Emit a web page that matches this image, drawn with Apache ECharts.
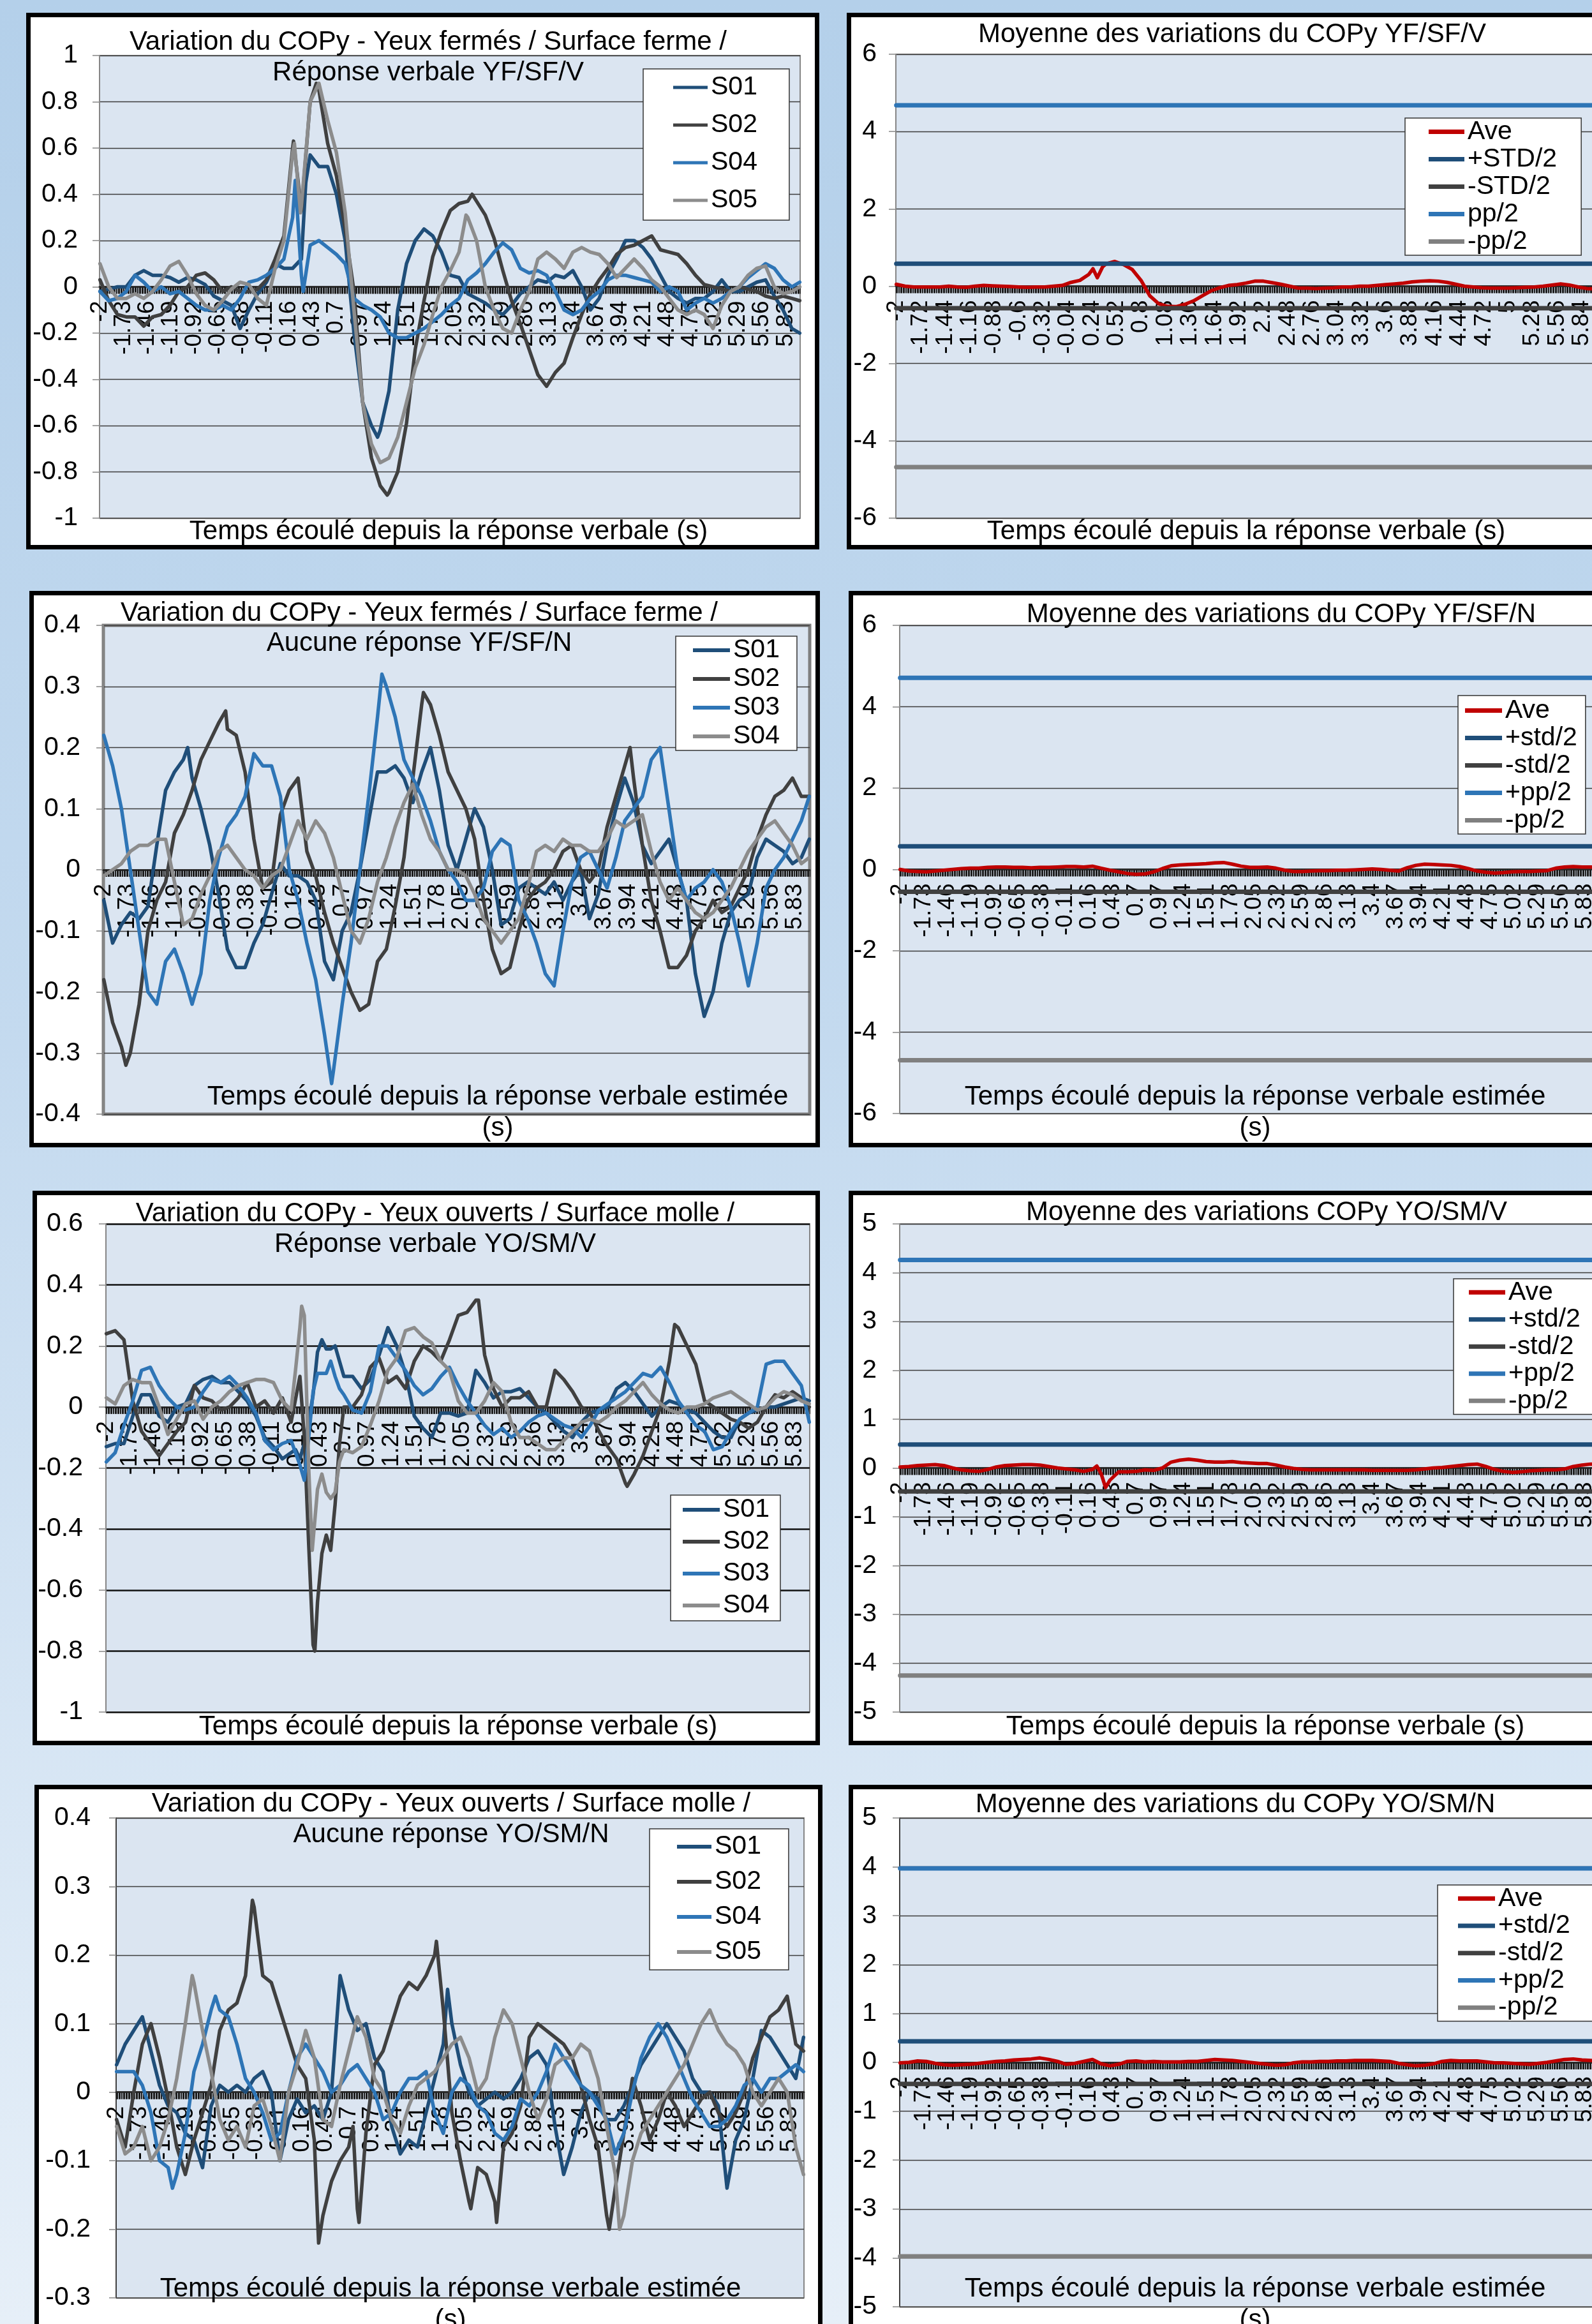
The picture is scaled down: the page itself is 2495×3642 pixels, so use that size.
<!DOCTYPE html>
<html><head><meta charset="utf-8">
<script src="https://cdn.jsdelivr.net/npm/echarts@6/dist/echarts.min.js"></script>
<style>
html,body{margin:0;padding:0;width:2495px;height:3642px;overflow:hidden;}
body{position:relative;background:linear-gradient(180deg,#b4d0ea 0%,#c4daef 45%,#e6eff8 100%);}
.panel{position:absolute;box-sizing:border-box;border:7px solid #000;background:#fff;}
</style></head><body>
<div id="p1" class="panel" style="left:41px;top:20px;width:1243px;height:841px"></div>
<div id="p2" class="panel" style="left:1327px;top:20px;width:1300px;height:841px"></div>
<div id="p3" class="panel" style="left:46px;top:926px;width:1239px;height:872px"></div>
<div id="p4" class="panel" style="left:1330px;top:926px;width:1300px;height:872px"></div>
<div id="p5" class="panel" style="left:51px;top:1866px;width:1234px;height:869px"></div>
<div id="p6" class="panel" style="left:1330px;top:1866px;width:1300px;height:869px"></div>
<div id="p7" class="panel" style="left:54px;top:2797px;width:1235px;height:900px"></div>
<div id="p8" class="panel" style="left:1330px;top:2797px;width:1300px;height:900px"></div>
<script>
// ---------------- DATA ----------------
// sample times (s): -2.0 .. 5.9 step 0.1, then 5.99 ; values below follow this order
const SAMPLE_T = [];
for (let i = 0; i < 80; i++) SAMPLE_T.push(Math.round((-2 + i * 0.1) * 10) / 10);
SAMPLE_T.push(5.99);
// category labels: -2 .. 5.99 step 0.01
const CATS = [];
for (let i = 0; i < 800; i++) CATS.push(String(Math.round((-2 + i * 0.01) * 100) / 100));

// Panel 1 : YF/SF/V
const P1_S01 = [-0.02,-0.01,0.0,0.0,0.05,0.07,0.05,0.05,0.04,0.02,
 0.04,0.03,0.01,-0.04,-0.06,-0.08,-0.18,-0.1,-0.03,0.02,
 0.1,0.08,0.08,0.12,0.57,0.52,0.52,0.4,0.2,-0.2,
 -0.5,-0.6,-0.62,-0.45,-0.1,0.1,0.2,0.25,0.22,0.15,
 0.05,0.04,-0.03,-0.05,-0.07,-0.1,-0.12,-0.08,-0.03,0.0,
 0.03,0.02,0.05,0.04,0.07,0.0,-0.1,-0.05,0.05,0.12,
 0.2,0.2,0.17,0.12,0.05,-0.02,-0.05,-0.07,-0.05,-0.05,
 -0.02,0.03,-0.02,-0.02,0.0,0.02,0.03,-0.04,-0.1,-0.18,
 -0.2];
const P1_S01_X = [[0.35,0.45],[1.17,-0.65]];
const P1_S02 = [0.03,-0.06,-0.12,-0.13,-0.13,-0.17,-0.13,-0.12,-0.08,-0.02,
 0.0,0.05,0.06,0.03,-0.02,0.0,-0.02,-0.02,-0.01,0.03,
 0.12,0.22,0.6,0.33,0.8,0.85,0.62,0.48,0.25,-0.02,
 -0.5,-0.74,-0.86,-0.89,-0.8,-0.59,-0.27,-0.06,0.13,0.24,
 0.33,0.36,0.37,0.37,0.31,0.21,0.07,-0.06,-0.16,-0.27,
 -0.38,-0.43,-0.37,-0.33,-0.22,-0.12,-0.03,0.03,0.08,0.14,
 0.17,0.18,0.2,0.22,0.16,0.15,0.14,0.1,0.05,0.01,
 0.0,-0.01,-0.02,0.0,-0.01,-0.02,-0.04,-0.05,-0.04,-0.05,
 -0.06];
const P1_S02_X = [[0.21,0.63],[0.47,0.88],[1.28,-0.9],[2.25,0.4]];
const P1_S04 = [-0.02,-0.06,-0.05,-0.02,0.05,0.02,-0.02,0.0,-0.03,-0.02,
 -0.05,-0.08,-0.1,-0.1,-0.08,-0.1,-0.05,0.02,0.03,0.05,
 0.08,0.12,0.3,0.05,0.18,0.2,0.17,0.14,0.1,-0.05,
 -0.08,-0.1,-0.13,-0.2,-0.22,-0.22,-0.2,-0.18,-0.15,-0.12,
 -0.08,-0.05,0.03,0.06,0.1,0.15,0.19,0.16,0.08,0.06,
 0.07,0.05,-0.02,-0.1,-0.12,-0.1,-0.05,-0.02,0.03,0.05,
 0.05,0.04,0.03,0.02,-0.02,0.0,-0.02,-0.1,-0.07,-0.05,
 -0.07,-0.05,-0.02,0.0,0.04,0.07,0.1,0.08,0.03,0.0,
 0.02];
const P1_S04_X = [[0.23,0.46],[0.32,-0.02]];
const P1_S05 = [0.1,0.0,-0.05,-0.05,-0.03,-0.05,-0.02,0.03,0.09,0.11,
 0.05,-0.03,-0.08,-0.1,-0.06,-0.01,0.02,0.01,-0.05,-0.08,
 0.08,0.2,0.58,0.35,0.8,0.88,0.72,0.58,0.32,-0.1,
 -0.5,-0.68,-0.76,-0.74,-0.65,-0.5,-0.35,-0.25,-0.12,0.0,
 0.07,0.15,0.3,0.2,0.0,-0.1,-0.18,-0.2,-0.1,-0.02,
 0.12,0.15,0.12,0.08,0.15,0.17,0.15,0.14,0.1,0.04,
 0.08,0.12,0.08,0.03,0.0,-0.05,-0.1,-0.12,-0.1,-0.12,
 -0.18,-0.08,-0.02,0.0,0.05,0.08,0.09,0.0,-0.03,-0.02,
 0.0];
const P1_S05_X = [[0.22,0.62],[0.29,0.32],[2.18,0.31]];

// Panel 2 : average YF/SF/V
const P2_AVE = [0.05,0.0,-0.02,-0.02,-0.02,-0.02,0.0,-0.02,-0.03,0.0,
 0.02,0.01,0.0,-0.01,-0.02,-0.03,-0.02,-0.02,0.0,0.02,
 0.1,0.15,0.3,0.22,0.58,0.64,0.56,0.43,0.15,-0.25,
 -0.45,-0.52,-0.53,-0.47,-0.38,-0.25,-0.12,-0.04,0.02,0.04,
 0.08,0.13,0.13,0.09,0.05,0.0,-0.05,-0.05,-0.06,-0.05,
 -0.04,-0.02,-0.02,0.0,0.0,0.02,0.04,0.06,0.08,0.11,
 0.13,0.14,0.13,0.1,0.05,0.0,-0.02,-0.04,-0.05,-0.05,
 -0.05,-0.04,-0.03,-0.02,0.0,0.03,0.06,0.03,-0.02,-0.06,
 -0.07];
const P2_AVE_X = [[0.25,0.45],[0.36,0.5]];
const P2_BANDS = [0.58, -0.57, 4.68, -4.68]; // +STD/2, -STD/2, pp/2, -pp/2

// Panel 3 : YF/SF/N
const P3_S01 = [-0.05,-0.12,-0.09,-0.07,-0.08,-0.06,0.04,0.13,0.16,0.18,
 0.15,0.1,0.04,-0.04,-0.13,-0.16,-0.16,-0.12,-0.09,-0.04,
 0.01,-0.01,-0.01,-0.02,-0.05,-0.15,-0.18,-0.1,-0.07,0.0,
 0.08,0.16,0.16,0.17,0.15,0.11,0.16,0.2,0.13,0.04,
 0.0,0.05,0.1,0.07,0.0,-0.09,-0.08,-0.03,-0.02,-0.03,
 -0.04,-0.02,-0.05,-0.02,0.0,-0.08,-0.04,0.04,0.1,0.15,
 0.11,0.04,0.01,0.03,0.05,0.0,-0.05,-0.17,-0.24,-0.2,
 -0.12,-0.07,-0.05,-0.04,0.02,0.05,0.04,0.03,0.01,0.02,
 0.05];
const P3_S01_X = [[-1.05,0.2]];
const P3_S02 = [-0.18,-0.25,-0.29,-0.3,-0.22,-0.1,-0.05,-0.02,0.06,0.09,
 0.13,0.18,0.21,0.24,0.23,0.22,0.16,0.05,-0.03,-0.02,
 0.09,0.13,0.15,0.03,-0.01,-0.07,-0.12,-0.16,-0.2,-0.23,
 -0.22,-0.15,-0.13,-0.06,0.02,0.15,0.27,0.27,0.22,0.16,
 0.13,0.1,0.05,-0.05,-0.13,-0.17,-0.16,-0.1,-0.05,-0.03,
 -0.02,0.0,0.03,0.04,0.0,-0.02,0.0,0.07,0.12,0.17,
 0.15,0.04,-0.05,-0.1,-0.16,-0.16,-0.14,-0.1,-0.08,-0.05,
 -0.07,-0.06,-0.03,0.0,0.05,0.09,0.12,0.13,0.15,0.12,
 0.12];
const P3_S02_X = [[-1.75,-0.32],[-0.62,0.26],[1.62,0.29],[3.96,0.2]];
const P3_S03 = [0.22,0.17,0.1,0.0,-0.1,-0.2,-0.22,-0.15,-0.13,-0.17,
 -0.22,-0.17,-0.05,0.02,0.07,0.09,0.12,0.19,0.17,0.17,
 0.12,0.0,-0.05,-0.12,-0.18,-0.27,-0.33,-0.22,-0.12,0.0,
 0.12,0.25,0.3,0.25,0.18,0.15,0.12,0.08,0.03,0.0,
 -0.02,-0.05,-0.05,-0.03,0.03,0.05,0.04,-0.05,-0.08,-0.12,
 -0.17,-0.19,-0.1,-0.02,0.02,0.03,0.0,-0.03,0.02,0.08,
 0.1,0.12,0.18,0.2,0.1,0.0,-0.05,-0.03,-0.02,0.0,
 -0.02,-0.06,-0.12,-0.19,-0.12,-0.03,0.0,0.02,0.05,0.08,
 0.12];
const P3_S03_X = [[0.58,-0.35],[1.15,0.32]];
const P3_S04 = [-0.01,0.0,0.01,0.03,0.04,0.04,0.05,0.05,-0.02,-0.09,
 -0.08,-0.04,-0.01,0.03,0.04,0.02,0.0,-0.01,-0.03,-0.01,
 0.0,0.04,0.08,0.05,0.08,0.06,0.02,-0.04,-0.1,-0.12,
 -0.08,-0.02,0.02,0.07,0.11,0.14,0.09,0.05,0.03,0.0,
 0.0,-0.01,-0.04,-0.08,-0.1,-0.12,-0.1,-0.08,-0.03,0.03,
 0.04,0.03,0.05,0.04,0.04,0.03,0.03,0.05,0.08,0.07,
 0.08,0.09,0.03,-0.02,-0.05,-0.03,-0.05,-0.07,-0.08,-0.07,
 -0.05,-0.03,0.0,0.03,0.05,0.07,0.08,0.06,0.04,0.01,
 0.02];

// Panel 4 : average YF/SF/N
const P4_AVE = [0.0,-0.04,-0.05,-0.06,-0.04,-0.02,0.0,0.02,0.03,0.03,
 0.05,0.06,0.06,0.05,0.05,0.04,0.05,0.05,0.06,0.07,
 0.07,0.06,0.08,0.03,-0.02,-0.06,-0.1,-0.12,-0.11,-0.06,
 0.02,0.09,0.11,0.12,0.13,0.14,0.16,0.17,0.13,0.08,
 0.05,0.05,0.06,0.03,-0.02,-0.05,-0.05,-0.04,-0.03,-0.03,
 -0.02,-0.02,-0.01,0.0,0.01,0.0,-0.02,-0.04,0.04,0.1,
 0.13,0.12,0.11,0.1,0.07,0.02,-0.04,-0.07,-0.09,-0.08,
 -0.06,-0.05,-0.05,-0.04,-0.03,0.03,0.06,0.07,0.06,0.06,
 0.05];
const P4_BANDS = [0.57, -0.55, 4.71, -4.69];

// Panel 5 : YO/SM/V
const P5_S01 = [-0.13,-0.12,-0.12,-0.03,0.04,0.04,-0.03,-0.05,0.0,0.01,
 0.07,0.09,0.1,0.08,0.08,0.05,0.02,-0.03,-0.1,-0.13,
 -0.17,-0.15,-0.17,-0.05,0.18,0.19,0.2,0.1,0.1,0.06,
 0.09,0.17,0.26,0.2,0.11,-0.03,-0.07,-0.1,-0.02,-0.02,
 -0.03,-0.02,0.12,0.08,0.03,0.05,0.05,0.06,0.03,0.0,
 -0.02,-0.05,-0.08,-0.1,-0.05,-0.02,-0.01,0.0,0.06,0.08,
 0.05,0.01,-0.03,0.0,0.02,0.01,-0.01,-0.02,-0.05,-0.08,
 -0.1,-0.1,-0.04,-0.02,-0.01,0.0,0.0,0.01,0.02,0.03,
 0.02];
const P5_S01_X = [[0.15,-0.14],[0.25,-0.12],[0.35,0.04],[0.45,0.22],[0.55,0.19],[0.65,0.15]];
const P5_S02 = [0.24,0.25,0.22,0.02,-0.08,-0.12,-0.16,-0.12,-0.08,-0.05,
 0.07,0.03,0.02,-0.01,0.0,0.03,0.08,0.0,0.02,-0.02,
 0.03,-0.05,0.1,-0.45,-0.64,-0.42,-0.32,0.0,0.0,0.04,
 0.13,0.16,0.08,0.1,0.06,0.15,0.2,0.18,0.15,0.22,
 0.3,0.31,0.35,0.17,0.06,0.0,0.03,0.03,0.05,0.0,
 0.0,0.12,0.09,0.05,0.0,-0.02,-0.08,-0.13,-0.17,-0.25,
 -0.22,-0.16,-0.08,0.0,0.15,0.26,0.2,0.14,0.02,0.0,
 -0.02,-0.04,-0.05,-0.07,-0.05,0.0,0.04,0.03,0.05,0.03,
 0.0];
const P5_S02_X = [[0.25,-0.1],[0.35,-0.78],[0.37,-0.8],[0.45,-0.48],[0.55,-0.47],[0.65,-0.12],[2.23,0.35],[3.92,-0.26],[4.46,0.27]];
const P5_S03 = [-0.18,-0.15,-0.06,0.02,0.12,0.13,0.07,0.03,0.0,-0.01,
 0.0,0.05,0.09,0.08,0.1,0.07,0.03,-0.02,-0.11,-0.14,
 -0.12,-0.11,-0.19,-0.1,0.11,0.11,0.1,0.04,-0.01,-0.02,
 0.05,0.2,0.2,0.16,0.12,0.07,0.04,0.06,0.1,0.13,
 0.07,0.02,-0.02,-0.06,-0.09,-0.07,-0.1,-0.08,-0.05,-0.03,
 -0.02,-0.04,-0.06,-0.07,-0.1,-0.06,-0.01,0.01,0.03,0.05,
 0.08,0.11,0.1,0.13,0.08,0.02,-0.02,-0.06,-0.08,-0.14,
 -0.13,-0.08,-0.04,-0.02,0.0,0.14,0.15,0.15,0.11,0.07,
 -0.05];
const P5_S03_X = [[0.15,-0.15],[0.25,-0.24],[0.35,0.05],[0.55,0.15],[0.65,0.06]];
const P5_S04 = [0.03,0.01,0.07,0.09,0.08,0.08,0.0,-0.09,-0.04,0.01,
 0.02,-0.04,0.0,0.02,0.05,0.07,0.08,0.09,0.09,0.08,
 0.02,-0.01,0.26,-0.2,-0.27,-0.28,-0.28,-0.14,-0.15,-0.13,
 -0.06,0.02,0.12,0.16,0.25,0.26,0.23,0.21,0.15,0.12,
 0.02,-0.02,-0.02,0.02,0.08,0.05,-0.05,-0.1,-0.1,-0.12,
 -0.14,-0.14,-0.11,-0.08,-0.05,-0.04,-0.05,-0.03,0.0,0.02,
 0.05,0.08,0.04,0.01,-0.01,-0.02,0.0,0.0,0.01,0.03,
 0.04,0.05,0.03,0.01,-0.01,0.0,0.03,0.05,0.04,0.02,
 0.01];
const P5_S04_X = [[0.15,0.12],[0.22,0.33],[0.25,0.3],[0.34,-0.47],[0.45,-0.22],[0.55,-0.3],[0.65,-0.18]];

// Panel 6 : average YO/SM/V
const P6_AVE = [0.02,0.03,0.05,0.06,0.07,0.05,0.0,-0.04,-0.06,-0.07,
 -0.03,0.02,0.05,0.06,0.07,0.07,0.06,0.03,0.0,-0.02,
 -0.04,-0.07,-0.03,-0.12,-0.25,-0.08,-0.08,-0.07,-0.04,-0.05,
 0.0,0.12,0.16,0.18,0.16,0.13,0.12,0.12,0.13,0.11,
 0.1,0.09,0.09,0.06,0.02,-0.01,-0.03,-0.04,-0.04,-0.04,
 -0.04,-0.04,-0.04,-0.04,-0.05,-0.05,-0.05,-0.05,-0.05,-0.04,
 -0.02,0.0,0.01,0.03,0.05,0.07,0.08,0.03,-0.03,-0.07,
 -0.09,-0.08,-0.06,-0.05,-0.04,-0.04,-0.02,0.03,0.06,0.08,
 0.08];
const P6_AVE_X = [[0.25,0.04],[0.35,-0.4]];
const P6_BANDS = [0.48, -0.48, 4.26, -4.25];

// Panel 7 : YO/SM/N
const P7_S01 = [0.04,0.07,0.09,0.11,0.06,0.01,-0.02,-0.03,-0.06,-0.07,
 -0.11,-0.02,0.01,0.0,0.01,0.0,0.02,0.03,0.0,-0.1,
 -0.04,-0.01,-0.03,-0.02,-0.04,0.0,0.17,0.12,0.09,0.1,
 0.05,0.03,-0.05,-0.09,-0.07,-0.08,-0.03,0.02,0.07,0.1,
 0.04,0.0,-0.02,-0.01,0.0,-0.01,0.0,0.02,0.05,0.06,
 0.04,-0.05,-0.12,-0.08,-0.03,0.0,-0.01,-0.04,-0.04,-0.02,
 0.01,0.04,0.06,0.08,0.1,0.08,0.06,0.02,0.0,0.0,
 -0.02,-0.14,-0.07,-0.04,0.02,0.09,0.08,0.06,0.04,0.02,
 0.08];
const P7_S01_X = [[1.85,0.15]];
const P7_S02 = [-0.04,-0.08,0.0,0.07,0.1,0.05,-0.01,-0.08,-0.12,-0.07,
 -0.03,0.01,0.09,0.12,0.13,0.17,0.27,0.17,0.16,0.12,
 0.08,0.04,0.02,-0.07,-0.18,-0.13,-0.1,-0.08,-0.17,-0.06,
 0.04,0.06,0.1,0.14,0.16,0.15,0.17,0.2,0.12,-0.03,
 -0.1,-0.16,-0.11,-0.12,-0.16,-0.08,-0.06,-0.02,0.08,0.1,
 0.09,0.08,0.07,0.05,0.01,-0.04,-0.08,-0.18,-0.14,-0.06,
 0.02,-0.02,-0.07,-0.04,0.0,-0.02,-0.05,-0.03,-0.01,0.0,
 -0.03,-0.05,-0.03,0.0,0.05,0.08,0.11,0.12,0.14,0.07,
 0.06];
const P7_S02_X = [[-0.42,0.28],[0.35,-0.22],[0.75,-0.05],[0.82,-0.19],[1.72,0.22],[2.12,-0.17],[2.42,-0.19],[3.73,-0.2]];
const P7_S04 = [0.03,0.03,0.03,0.01,-0.03,-0.1,-0.11,-0.12,-0.06,0.03,
 0.07,0.12,0.12,0.11,0.07,0.02,0.0,-0.03,-0.07,-0.06,
 0.0,0.05,0.07,0.05,0.03,0.0,0.01,0.03,0.04,0.02,
 0.0,-0.04,-0.03,0.0,0.02,0.02,0.03,-0.03,-0.06,0.0,
 0.02,0.01,-0.02,-0.03,-0.06,-0.07,-0.05,-0.01,-0.02,0.0,
 0.03,0.07,0.05,0.03,0.01,0.0,-0.02,-0.04,-0.09,-0.06,
 0.0,0.05,0.08,0.1,0.08,0.05,0.02,-0.01,-0.03,-0.05,
 -0.05,-0.04,-0.02,0.01,0.02,0.0,0.02,0.02,0.03,0.04,
 0.03];
const P7_S04_X = [[-1.35,-0.14],[-0.85,0.14]];
const P7_S05 = [-0.05,-0.09,-0.08,-0.05,-0.1,-0.08,-0.04,0.02,0.1,0.16,
 0.09,0.03,-0.04,-0.07,-0.05,-0.08,-0.02,-0.01,-0.05,-0.1,
 0.0,0.04,0.09,0.05,-0.04,-0.05,0.01,0.06,0.11,0.08,
 0.02,0.0,-0.04,-0.06,-0.02,0.01,0.02,0.03,0.05,0.07,
 0.08,0.05,0.0,0.02,0.08,0.12,0.1,0.05,0.0,-0.04,
 -0.01,0.04,0.05,0.05,0.07,0.06,0.02,-0.05,-0.12,-0.18,
 -0.1,-0.06,-0.04,-0.02,0.0,0.02,0.04,0.07,0.1,0.12,
 0.09,0.07,0.06,0.04,0.0,-0.02,0.0,0.02,0.0,-0.08,
 -0.12];
const P7_S05_X = [[-1.12,0.17],[3.85,-0.2]];

// Panel 8 : average YO/SM/N
const P8_AVE = [-0.01,0.0,0.03,0.02,-0.02,-0.05,-0.06,-0.05,-0.04,-0.02,
 0.0,0.02,0.03,0.05,0.06,0.07,0.09,0.06,0.02,-0.04,
 -0.02,0.02,0.06,-0.03,-0.07,-0.04,0.02,0.03,0.01,0.02,
 0.01,0.01,0.01,0.02,0.02,0.04,0.06,0.05,0.04,0.02,
 0.0,-0.02,-0.04,-0.06,-0.05,-0.01,0.01,0.01,0.02,0.02,
 0.03,0.03,0.04,0.04,0.04,0.03,0.02,-0.02,-0.05,-0.07,
 -0.06,-0.03,0.02,0.04,0.03,0.03,0.03,0.01,-0.01,-0.01,
 -0.02,-0.03,-0.04,-0.02,0.0,0.03,0.06,0.07,0.05,0.04,
 0.03];
const P8_BANDS = [0.43, -0.44, 3.97, -3.97];

// ---------------- STYLE / BUILD ----------------
const FONT = "'Liberation Sans', Arial, Helvetica, sans-serif";
const C_DB = '#1f4e79', C_DG = '#404040', C_MB = '#2e75b6', C_GR = '#8c8c8c', C_RED = '#c00000', C_BG = '#808080';

function tIdx(t) { return Math.round((t + 2) * 100); }
function build(vals, extra) {
  const pts = vals.map((v, i) => [tIdx(SAMPLE_T[i]), v]);
  (extra || []).forEach(p => pts.push([tIdx(p[0]), p[1]]));
  pts.sort((a, b) => a[0] - b[0]);
  return pts;
}
function flat(v) { return [[0, v], [799, v]]; }

function panel(c) {
  const el = document.getElementById(c.id);
  const ox = el.offsetLeft + 7, oy = el.offsetTop + 7;
  const chart = echarts.init(el, null, { renderer: 'canvas' });
  const g = c.grid;
  const h = g[3] - g[1];
  // x axis sits at value 0: shift it up from the grid bottom
  const zeroOffset = -h * (0 - c.y[0]) / (c.y[1] - c.y[0]);
  const step = c.labelStep;
  const series = c.series.map(s => ({
    name: s.name, type: 'line', symbol: 'none', showSymbol: false, silent: true, animation: false,
    color: s.color, itemStyle: { color: s.color },
    lineStyle: { color: s.color, width: s.width, join: 'round', cap: 'round' },
    data: s.data
  }));
  const L = c.legend;
  chart.setOption({
    animation: false,
    title: [
      { text: c.title, left: c.titleX - ox, top: c.titleY - oy, textAlign: 'center', padding: 0,
        textStyle: { fontFamily: FONT, fontSize: 42, fontWeight: 'normal', color: '#000', lineHeight: c.titleLH } },
      { text: c.xname, left: c.xnameX - ox, top: c.xnameY - oy, textAlign: 'center', padding: 0,
        textStyle: { fontFamily: FONT, fontSize: 42, fontWeight: 'normal', color: '#000', lineHeight: c.xnameLH } }
    ],
    legend: {
      orient: 'vertical', left: L.x - ox, top: L.y - oy, padding: L.pad, itemGap: L.gap,
      itemWidth: L.iw, itemHeight: L.ih, icon: 'rect', selectedMode: false,
      backgroundColor: '#ffffff', borderColor: '#333', borderWidth: 1.5, borderRadius: 0,
      textStyle: { fontFamily: FONT, fontSize: 41, color: '#000', lineHeight: L.lh },
      data: c.series.map(s => s.name)
    },
    grid: { left: g[0] - ox, top: g[1] - oy, width: g[2] - g[0], height: h,
      show: true, backgroundColor: '#dbe5f1', borderColor: c.borderColor || '#868686', borderWidth: c.borderWidth || 2,
      containLabel: false, outerBoundsMode: 'none' },
    xAxis: {
      type: 'category', data: CATS, boundaryGap: true, position: 'bottom', offset: zeroOffset, z: 3,
      axisLine: { show: true, onZero: false, lineStyle: { color: '#333333', width: 3 } },
      axisTick: { show: true, interval: 0, length: 11, lineStyle: { color: '#1e1e1e', width: 1.1 } },
      axisLabel: { show: true, interval: 0, rotate: 90, margin: 22, hideOverlap: false,
        formatter: (v, i) => (i % step === 0 ? v : ''),
        fontFamily: FONT, fontSize: 37, color: '#000' },
      splitLine: { show: false }
    },
    yAxis: {
      type: 'value', min: c.y[0], max: c.y[1], interval: c.y[2],
      axisLine: { show: true, onZero: false, lineStyle: { color: c.yAxisColor || '#868686', width: 2 } },
      axisTick: { show: true, length: 11, lineStyle: { color: '#868686', width: 1.5 } },
      axisLabel: { fontFamily: FONT, fontSize: 41, color: '#000', margin: c.yMargin, hideOverlap: false,
        showMinLabel: true, showMaxLabel: true },
      splitLine: { show: true, lineStyle: { color: c.splitColor || '#3c3c3c', width: c.splitWidth || 1.3 } }
    },
    series: series
  });
}

function subjects(names, colors, arrays, extras) {
  return names.map((n, i) => ({ name: n, color: colors[i], width: 5.5, data: build(arrays[i], extras[i]) }));
}
function avgSeries(names, ave, aveX, bands) {
  return [
    { name: names[0], color: C_RED, width: 5.5, data: build(ave, aveX) },
    { name: names[1], color: C_DB, width: 7, data: flat(bands[0]) },
    { name: names[2], color: C_DG, width: 7, data: flat(bands[1]) },
    { name: names[3], color: C_MB, width: 7, data: flat(bands[2]) },
    { name: names[4], color: C_BG, width: 7, data: flat(bands[3]) }
  ];
}
const XN_V = 'Temps écoulé depuis la réponse verbale (s)';
const XN_N = 'Temps écoulé depuis la réponse verbale estimée\n(s)';
const AV_LOW = ['Ave', '+std/2', '-std/2', '+pp/2', '-pp/2'];

panel({ id: 'p1', grid: [156, 87, 1254, 812], y: [-1, 1, 0.2], yMargin: 34, labelStep: 27,
  title: 'Variation du COPy - Yeux fermés / Surface ferme /\nRéponse verbale YF/SF/V', titleX: 671, titleY: 42, titleLH: 48,
  xname: XN_V, xnameX: 703, xnameY: 809, xnameLH: 48,
  legend: { x: 1008, y: 108, pad: [7, 50, 9, 47], gap: 15, iw: 54, ih: 5, lh: 44 },
  series: subjects(['S01', 'S02', 'S04', 'S05'], [C_DB, C_DG, C_MB, C_GR], [P1_S01, P1_S02, P1_S04, P1_S05], [P1_S01_X, P1_S02_X, P1_S04_X, P1_S05_X]) });

panel({ id: 'p2', grid: [1404, 85, 2500, 812], y: [-6, 6, 2], yMargin: 30, labelStep: 28,
  title: 'Moyenne des variations du COPy YF/SF/V', titleX: 1931, titleY: 30, titleLH: 48,
  xname: XN_V, xnameX: 1953, xnameY: 809, xnameLH: 48,
  legend: { x: 2202, y: 185, pad: [0, 38, 0, 37], gap: 0, iw: 56, ih: 7, lh: 43 },
  series: avgSeries(['Ave', '+STD/2', '-STD/2', 'pp/2', '-pp/2'], P2_AVE, P2_AVE_X, P2_BANDS) });

panel({ id: 'p3', grid: [162, 980, 1269, 1746], y: [-0.4, 0.4, 0.1], yMargin: 36, labelStep: 27,
  borderColor: '#7f7f7f', borderWidth: 5,
  title: 'Variation du COPy - Yeux fermés / Surface ferme /\nAucune réponse YF/SF/N', titleX: 657, titleY: 938, titleLH: 47,
  xname: XN_N, xnameX: 780, xnameY: 1695, xnameLH: 49,
  legend: { x: 1059, y: 997, pad: [0, 27, 0, 27], gap: 1, iw: 58, ih: 6, lh: 44 },
  series: subjects(['S01', 'S02', 'S03', 'S04'], [C_DB, C_DG, C_MB, C_GR], [P3_S01, P3_S02, P3_S03, P3_S04], [P3_S01_X, P3_S02_X, P3_S03_X, []]) });

panel({ id: 'p4', grid: [1410, 980, 2506, 1745], y: [-6, 6, 2], yMargin: 36, labelStep: 27,
  title: 'Moyenne des variations du COPy YF/SF/N', titleX: 2008, titleY: 939, titleLH: 48,
  xname: XN_N, xnameX: 1967, xnameY: 1695, xnameLH: 49,
  legend: { x: 2285, y: 1090, pad: [2, 13, 0, 11], gap: 0, iw: 58, ih: 7, lh: 43 },
  series: avgSeries(AV_LOW, P4_AVE, [], P4_BANDS) });

panel({ id: 'p5', grid: [166, 1918, 1269, 2683], y: [-1, 0.6, 0.2], yMargin: 36, labelStep: 27,
  splitColor: '#111', splitWidth: 2.5,
  title: 'Variation du COPy - Yeux ouverts / Surface molle /\nRéponse verbale YO/SM/V', titleX: 682, titleY: 1878, titleLH: 48,
  xname: XN_V, xnameX: 718, xnameY: 2682, xnameLH: 48,
  legend: { x: 1051, y: 2343, pad: [1, 17, 2, 19], gap: 6, iw: 58, ih: 6, lh: 44 },
  series: subjects(['S01', 'S02', 'S03', 'S04'], [C_DB, C_DG, C_MB, C_GR], [P5_S01, P5_S02, P5_S03, P5_S04], [P5_S01_X, P5_S02_X, P5_S03_X, P5_S04_X]) });

panel({ id: 'p6', grid: [1410, 1918, 2506, 2683], y: [-5, 5, 1], yMargin: 36, labelStep: 27,
  title: 'Moyenne des variations COPy YO/SM/V', titleX: 1985, titleY: 1876, titleLH: 48,
  xname: XN_V, xnameX: 1983, xnameY: 2682, xnameLH: 48,
  legend: { x: 2278, y: 2004, pad: [0, 40, 0, 24], gap: 0, iw: 57, ih: 7, lh: 42.5 },
  series: avgSeries(AV_LOW, P6_AVE, P6_AVE_X, P6_BANDS) });

panel({ id: 'p7', grid: [182, 2849, 1260, 3601], y: [-0.3, 0.4, 0.1], yMargin: 40, labelStep: 27,
  yAxisColor: '#404040',
  title: 'Variation du COPy - Yeux ouverts / Surface molle /\nAucune réponse YO/SM/N', titleX: 707, titleY: 2804, titleLH: 47.5,
  xname: XN_N, xnameX: 706, xnameY: 3563, xnameLH: 49,
  legend: { x: 1018, y: 2866, pad: [6, 43, 6, 43], gap: 11, iw: 54, ih: 6, lh: 44 },
  series: subjects(['S01', 'S02', 'S04', 'S05'], [C_DB, C_DG, C_MB, C_GR], [P7_S01, P7_S02, P7_S04, P7_S05], [P7_S01_X, P7_S02_X, P7_S04_X, P7_S05_X]) });

panel({ id: 'p8', grid: [1410, 2849, 2506, 3615], y: [-5, 5, 1], yMargin: 36, labelStep: 27,
  yAxisColor: '#404040',
  title: 'Moyenne des variations du COPy YO/SM/N', titleX: 1936, titleY: 2804, titleLH: 48,
  xname: XN_N, xnameX: 1967, xnameY: 3563, xnameLH: 49,
  legend: { x: 2253, y: 2954, pad: [0, 40, 0, 32], gap: 0, iw: 58, ih: 7, lh: 42.7 },
  series: avgSeries(AV_LOW, P8_AVE, [], P8_BANDS) });
</script>
</body></html>
